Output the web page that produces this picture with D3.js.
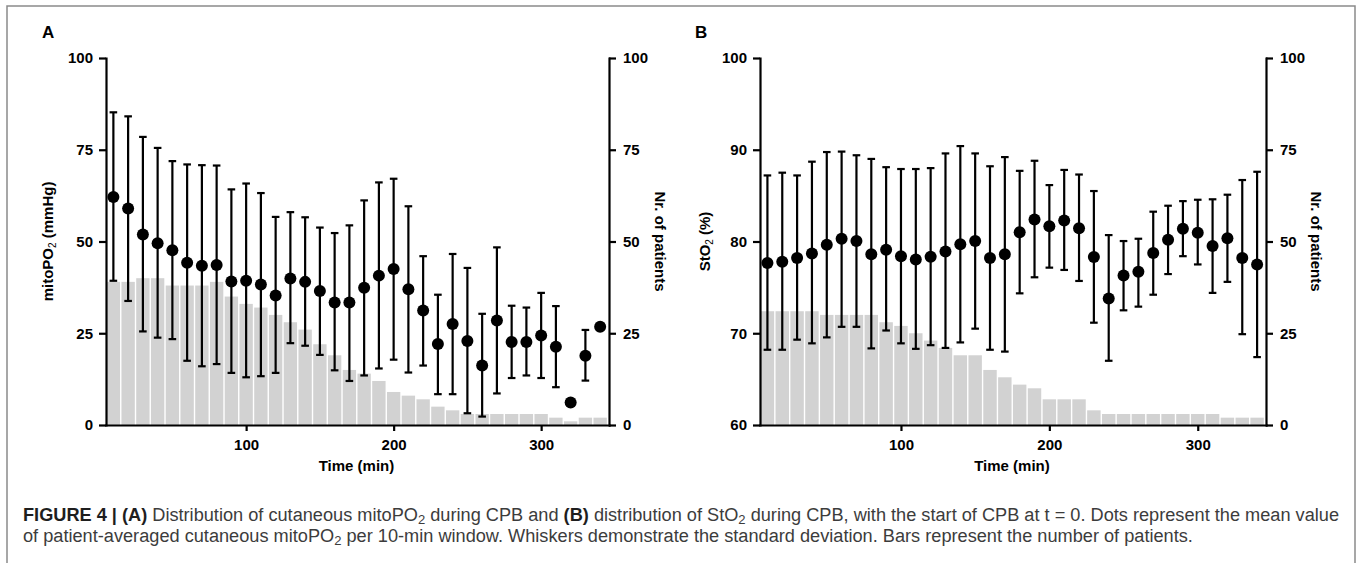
<!DOCTYPE html>
<html>
<head>
<meta charset="utf-8">
<script src="https://cdn.jsdelivr.net/npm/d3@7"></script>
<style>
  body { margin: 0; background: #fff; }
  svg { display: block; }
  .axis path, .axis line { stroke: #000; stroke-width: 2.2; }
  .axis text { font: bold 15px "Liberation Sans", Arial, sans-serif; fill: #000; }
  .lbl { font-family: "Liberation Sans", Arial, sans-serif; font-weight: bold; font-size: 15px; fill: #000; }
  .letter { font-family: "Liberation Sans", Arial, sans-serif; font-weight: bold; font-size: 17px; fill: #000; }
  .cap { font-family: "Liberation Sans", Arial, sans-serif; fill: #3c3c3c; }
</style>
</head>
<body>
<svg id="chart" width="1362" height="565"></svg>
<script>
// time windows (min)
var times = [10, 20, 30, 40, 50, 60, 70, 80, 90, 100, 110, 120, 130, 140, 150, 160, 170,
             180, 190, 200, 210, 220, 230, 240, 250, 260, 270, 280, 290, 300, 310, 320, 330, 340];

// panel A: cutaneous mitoPO2 (mmHg)
var mitoMean = [62.1, 59.0, 51.9, 49.5, 47.6, 44.2, 43.4, 43.6, 39.1, 39.3, 38.3, 35.3, 39.9, 39.0, 36.5, 33.4, 33.4,
                37.4, 40.7, 42.5, 37.0, 31.2, 22.1, 27.5, 22.9, 16.2, 28.5, 22.6, 22.6, 24.4, 21.3, 6.1, 18.9, 26.8];
var mitoHi = [85.2, 84.1, 78.5, 75.5, 71.9, 71.0, 70.8, 70.7, 64.2, 65.8, 63.2, 56.7, 58.0, 56.6, 53.8, 52.3, 54.4,
              61.2, 66.1, 67.1, 59.6, 46.0, 35.5, 46.6, 42.8, 30.3, 48.4, 32.5, 32.0, 36.0, 32.4, null, 25.9, null];
var mitoLo = [39.3, 33.8, 25.5, 23.8, 23.4, 17.5, 16.0, 16.6, 14.2, 13.0, 13.3, 14.2, 22.3, 21.6, 19.1, 14.9, 12.0,
              13.5, 15.4, 17.8, 14.3, 16.2, 8.4, 8.4, 3.2, 2.3, 8.6, 12.8, 13.5, 12.8, 10.3, null, 12.1, null];
var mitoN = [39, 39, 40, 40, 38, 38, 38, 39, 35, 33, 32, 30, 28, 26, 22, 19, 15,
             14, 12, 9, 8, 7, 5, 4, 3, 3, 3, 3, 3, 3, 2, 1, 2, 2];

// panel B: StO2 (%)
var stoMean = [77.65, 77.8, 78.2, 78.7, 79.65, 80.3, 80.05, 78.6, 79.1, 78.4, 78.05, 78.35, 78.9, 79.7, 80.05, 78.2, 78.6,
               81.0, 82.4, 81.65, 82.3, 81.45, 78.3, 73.8, 76.3, 76.7, 78.75, 80.2, 81.4, 80.95, 79.5, 80.35, 78.2, 77.5];
var stoHi = [87.2, 87.5, 87.2, 88.7, 89.75, 89.8, 89.4, 89.0, 88.1, 87.9, 87.9, 88.0, 89.6, 90.4, 89.6, 88.2, 89.2,
             87.7, 88.8, 86.15, 87.8, 87.3, 85.5, 80.7, 80.05, 80.3, 83.25, 83.9, 84.4, 84.55, 84.6, 85.1, 86.7, 87.6];
var stoLo = [68.2, 68.2, 69.3, 68.9, 69.55, 70.7, 70.7, 68.35, 70.3, 68.9, 68.3, 68.7, 68.4, 69.0, 70.5, 68.2, 68.0,
             74.35, 76.1, 77.15, 76.9, 75.7, 71.15, 67.0, 72.5, 72.9, 74.2, 76.45, 78.4, 77.5, 74.4, 75.6, 69.9, 67.4];
var stoN = [31, 31, 31, 31, 30, 30, 30, 30, 28, 27, 25, 23, 21, 19, 19, 15, 13,
            11, 10, 7, 7, 7, 4, 3, 3, 3, 3, 3, 3, 3, 3, 2, 2, 2];

var xTicks = [100, 200, 300];
var mitoTicks = [0, 25, 50, 75, 100];
var stoTicks = [60, 70, 80, 90, 100];
var nTicks = [0, 25, 50, 75, 100];

var svg = d3.select("#chart");

// figure frame
svg.append("path")
    .attr("d", "M7,563V6H1355V563")
    .attr("fill", "none")
    .attr("stroke", "#8a8a8a")
    .attr("stroke-width", 1.5);

function panel(cfg) {
  var x = d3.scaleLinear().domain([5, 346]).range([cfg.left, cfg.right]);
  var y = d3.scaleLinear().domain(cfg.yDomain).range([425, 58]);
  var yN = d3.scaleLinear().domain([0, 100]).range([425, 58]);
  var g = svg.append("g");

  // patient count bars
  g.selectAll("rect.bar")
    .data(times)
    .enter().append("rect")
      .attr("class", "bar")
      .attr("x", function(t) { return x(t - 5) + 0.7; })
      .attr("width", function(t) { return x(t + 5) - x(t - 5) - 1.4; })
      .attr("y", function(t, i) { return yN(cfg.n[i]); })
      .attr("height", function(t, i) { return yN(0) - yN(cfg.n[i]); })
      .attr("fill", "#d2d2d2");

  // whiskers (mean +/- SD)
  var wi = times.map(function(t, i) { return i; }).filter(function(i) { return cfg.hi[i] != null; });
  var w = g.selectAll("g.wh").data(wi).enter().append("g")
      .attr("stroke", "#000").attr("stroke-width", 2.2);
  w.append("line")
      .attr("x1", function(i) { return x(times[i]); })
      .attr("x2", function(i) { return x(times[i]); })
      .attr("y1", function(i) { return y(cfg.hi[i]); })
      .attr("y2", function(i) { return y(cfg.lo[i]); });
  ["hi", "lo"].forEach(function(k) {
    w.append("line")
        .attr("x1", function(i) { return x(times[i]) - 3.8; })
        .attr("x2", function(i) { return x(times[i]) + 3.8; })
        .attr("y1", function(i) { return y(cfg[k][i]); })
        .attr("y2", function(i) { return y(cfg[k][i]); });
  });

  // means
  g.selectAll("circle")
    .data(times)
    .enter().append("circle")
      .attr("cx", function(t) { return x(t); })
      .attr("cy", function(t, i) { return y(cfg.mean[i]); })
      .attr("r", 6)
      .attr("fill", "#000");

  // axes
  g.append("g").attr("class", "axis")
      .attr("transform", "translate(0,425)")
      .call(d3.axisBottom(x).tickValues(xTicks).tickSize(6).tickPadding(8).tickSizeOuter(0));
  g.append("g").attr("class", "axis")
      .attr("transform", "translate(" + cfg.left + ",0)")
      .call(d3.axisLeft(y).tickValues(cfg.yTicks).tickSize(7).tickPadding(6).tickSizeOuter(0));
  g.append("g").attr("class", "axis")
      .attr("transform", "translate(" + cfg.right + ",0)")
      .call(d3.axisRight(yN).tickValues(nTicks).tickSize(7).tickPadding(7).tickSizeOuter(0));
  g.selectAll(".axis path").attr("stroke-linecap", "square");

  // axis titles
  var yl = g.append("text").attr("class", "lbl")
      .attr("text-anchor", "middle")
      .attr("transform", "translate(" + cfg.yLabelX + ",241.5) rotate(-90)")
      .attr("dy", "0.35em");
  yl.append("tspan").text(cfg.yLabel[0]);
  yl.append("tspan").style("font-size", "10px").style("font-weight", "normal").attr("dy", 3).text("2");
  yl.append("tspan").attr("dy", -3).text(cfg.yLabel[1]);

  g.append("text").attr("class", "lbl")
      .attr("text-anchor", "middle")
      .attr("transform", "translate(" + cfg.nLabelX + ",241.5) rotate(90)")
      .attr("dy", "0.35em")
      .text("Nr. of patients");

  g.append("text").attr("class", "lbl")
      .attr("text-anchor", "middle")
      .attr("x", (cfg.left + cfg.right) / 2 - 1)
      .attr("y", 471)
      .text("Time (min)");

  g.append("text").attr("class", "letter")
      .attr("x", cfg.letterX).attr("y", 38)
      .text(cfg.letter);
}

panel({ left: 106, right: 609, yDomain: [0, 100], yTicks: mitoTicks,
        mean: mitoMean, hi: mitoHi, lo: mitoLo, n: mitoN,
        yLabel: ["mitoPO", " (mmHg)"], yLabelX: 48, nLabelX: 660, letter: "A", letterX: 42 });
panel({ left: 760, right: 1266, yDomain: [60, 100], yTicks: stoTicks,
        mean: stoMean, hi: stoHi, lo: stoLo, n: stoN,
        yLabel: ["StO", " (%)"], yLabelX: 705, nLabelX: 1316, letter: "B", letterX: 695 });

// caption
var capLines = [
  [["FIGURE 4 | (A)", true], [" Distribution of cutaneous mitoPO", false], ["2", "sub"], [" during CPB and ", false],
   ["(B)", true], [" distribution of StO", false], ["2", "sub"],
   [" during CPB, with the start of CPB at t = 0. Dots represent the mean value", false]],
  [["of patient-averaged cutaneous mitoPO", false], ["2", "sub"],
   [" per 10-min window. Whiskers demonstrate the standard deviation. Bars represent the number of patients.", false]]
];
var capY = [521, 542];
var capTexts = capLines.map(function(parts, li) {
  var t = svg.append("text").attr("class", "cap").attr("x", 23).attr("y", capY[li]).style("font-size", "16px");
  var shifted = false;
  parts.forEach(function(p) {
    var s = t.append("tspan").text(p[0]);
    if (p[1] === true) s.style("font-weight", "bold").style("fill", "#1e1e1e");
    if (p[1] === "sub") { s.style("font-size", "0.72em").attr("dy", 3); shifted = true; }
    else if (shifted) { s.attr("dy", -3); shifted = false; }
  });
  return t;
});
// fit the first caption line to the frame width, keep the same size for the second
var w0 = capTexts[0].node().getComputedTextLength();
var fs = 16 * 1317 / w0;
capTexts.forEach(function(t) { t.style("font-size", fs + "px"); });
</script>
</body>
</html>
